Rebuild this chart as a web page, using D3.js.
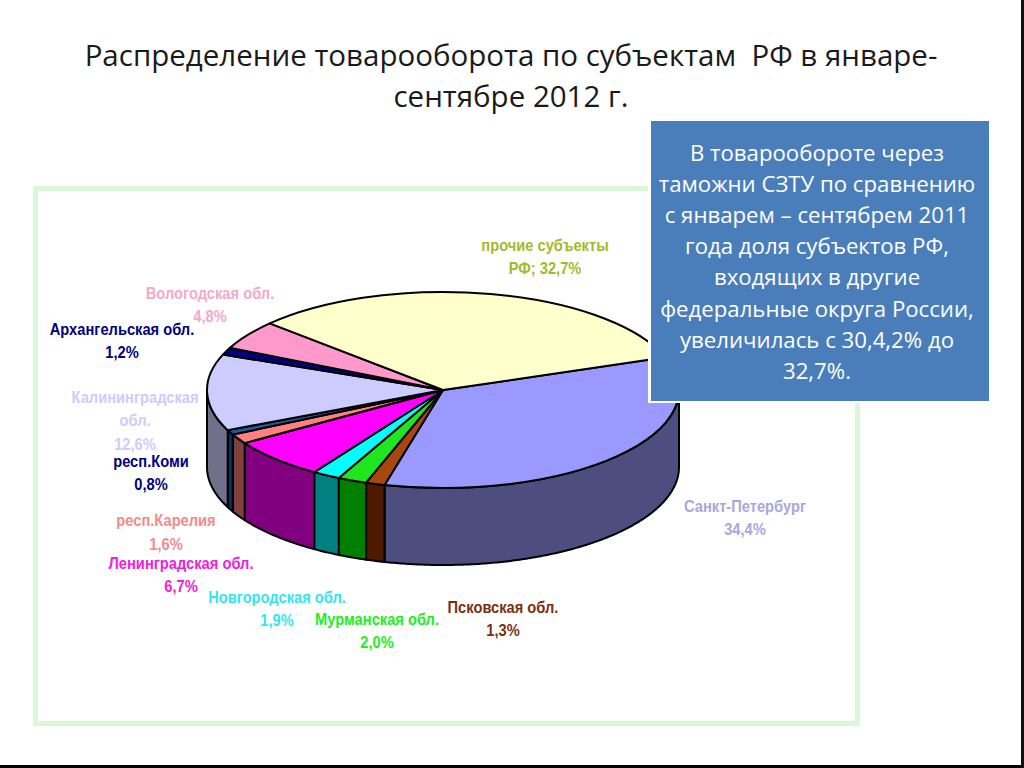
<!DOCTYPE html>
<html>
<head>
<meta charset="utf-8">
<script src="https://cdnjs.cloudflare.com/ajax/libs/d3/7.8.5/d3.min.js"></script>
<style>
html, body { margin: 0; padding: 0; background: #fff; overflow: hidden; }
</style>
</head>
<body>
<div id="d3-svg"></div>
<script>
// Values, clockwise from the right hand side of the pie
var regions = ["Санкт-Петербург", "Псковская обл.", "Мурманская обл.", "Новгородская обл.",
               "Ленинградская обл.", "респ.Карелия", "респ.Коми", "Калининградская обл.",
               "Архангельская обл.", "Вологодская обл.", "прочие субъекты РФ"];
var shares = [34.4, 1.3, 2.0, 1.9, 6.7, 1.6, 0.8, 12.6, 1.2, 4.8, 32.7];

var titleLines = ["Распределение товарооборота по субъектам  РФ в январе-", "сентябре 2012 г."];
var noteLines = ["В товарообороте через", "таможни СЗТУ по сравнению", "с январем – сентябрем 2011",
                 "года доля субъектов РФ,", "входящих в другие", "федеральные округа России,",
                 "увеличилась с 30,4,2% до", "32,7%."];

// Wedge styles, same order as above
var topColours = ["#9999ff", "#a6480f", "#1fe61f", "#00ffff", "#ff00ff", "#ff8080", "#1f5a9e", "#ccccff", "#000080", "#ff99cc", "#ffffcc"];
var sideColours = ["#4d4d80", "#4d1a00", "#008000", "#008080", "#800080", "#804040", "#003366", "#70708a", "#000040", "#804d66", "#808066"];
var labelColours = ["#a9a6e0", "#7a3010", "#22ee22", "#33e6f0", "#ee22d8", "#f58a8a", "#000080", "#ccccff", "#000080", "#f5a9c8", "#9fbb2f"];

// Label layout: how the name is broken up, centre x and the y of each line
var labelBreaks = [["Санкт-Петербург"], ["Псковская обл."], ["Мурманская обл."], ["Новгородская обл."],
                   ["Ленинградская обл."], ["респ.Карелия"], ["респ.Коми"], ["Калининградская", "обл."],
                   ["Архангельская обл."], ["Вологодская обл."], ["прочие субъекты"]];
var labelValuePrefix = ["", "", "", "", "", "", "", "", "", "", "РФ; "];
var labelX = [745, 503, 377, 277, 181, 166, 151, 135, 122, 210, 545];
var labelY = [506, 607, 619, 597, 563, 520, 461, 397, 329, 293, 245];

var WIDTH = 1024, HEIGHT = 768;
var cx = 443, cy = 390, rx = 236, ry = 98, depth = 77;
var startAngle = 70.5 * Math.PI / 180;

var svg = d3.select("#d3-svg").append("svg")
    .attr("width", WIDTH)
    .attr("height", HEIGHT)
    .style("display", "block");

// black strip along the bottom and right of the photo
svg.append("rect").attr("x", 0).attr("y", 765).attr("width", WIDTH).attr("height", 3).attr("fill", "#000");
svg.append("rect").attr("x", 1021).attr("y", 0).attr("width", 3).attr("height", HEIGHT).attr("fill", "#111");

// title
svg.selectAll("text.title").data(titleLines).enter().append("text")
    .attr("class", "title")
    .attr("x", 511)
    .attr("y", function (d, i) { return 66 + i * 41; })
    .attr("text-anchor", "middle")
    .attr("font-family", "'Open Sans', sans-serif")
    .attr("font-size", 29.5)
    .attr("fill", "#1a1a1a")
    .style("white-space", "pre")
    .text(function (d) { return d; });

// light green frame round the chart
svg.append("rect")
    .attr("x", 35.5).attr("y", 188.5)
    .attr("width", 822).attr("height", 535)
    .attr("fill", "#fff")
    .attr("stroke", "#d8f8d8")
    .attr("stroke-width", 5);

var pie = d3.pie().sort(null).startAngle(startAngle).endAngle(startAngle + 2 * Math.PI);
var slices = pie(shares);

var xScale = d3.scaleLinear().domain([-1, 1]).range([cx - rx, cx + rx]);
var yScale = d3.scaleLinear().domain([-1, 1]).range([cy - ry, cy + ry]);
var line = d3.line().x(function (d) { return d[0]; }).y(function (d) { return d[1]; });

// outer wall of a slice, only the part that faces the viewer
var wallPath = function (d) {
    var a0 = Math.max(d.startAngle, Math.PI / 2);
    var a1 = Math.min(d.endAngle, 3 * Math.PI / 2);
    if (a1 <= a0) return null;
    var angles = d3.range(a0, a1, 0.01).concat([a1]);
    var upper = angles.map(function (a) { return [xScale(Math.sin(a)), yScale(-Math.cos(a))]; });
    var lower = upper.slice().reverse().map(function (p) { return [p[0], p[1] + depth]; });
    return line(upper.concat(lower)) + "Z";
};

svg.append("g").selectAll("path").data(slices).enter().append("path")
    .attr("d", wallPath)
    .attr("fill", function (d, i) { return sideColours[i]; })
    .attr("stroke", "#000")
    .attr("stroke-width", 2)
    .attr("stroke-linejoin", "round");

// top of the pie is a normal arc squashed into an ellipse
var arc = d3.arc().innerRadius(0).outerRadius(rx);
svg.append("g")
    .attr("transform", "translate(" + cx + "," + cy + ") scale(1," + (ry / rx) + ")")
    .selectAll("path").data(slices).enter().append("path")
    .attr("d", arc)
    .attr("fill", function (d, i) { return topColours[i]; })
    .attr("stroke", "#000")
    .attr("stroke-width", 2)
    .attr("stroke-linejoin", "round")
    .attr("vector-effect", "non-scaling-stroke");

// slice labels, value goes on the last line. No narrow font here so squeeze Liberation Sans
var comma = function (v) { return d3.format(".1f")(v).replace(".", ",") + "%"; };
var labels = svg.append("g").selectAll("text").data(regions).enter().append("text")
    .attr("transform", function (d, i) { return "translate(" + labelX[i] + ",0) scale(0.89,1)"; })
    .attr("text-anchor", "middle")
    .attr("font-family", "'Liberation Sans', sans-serif")
    .attr("font-weight", "bold")
    .attr("font-size", 16.5)
    .attr("fill", function (d, i) { return labelColours[i]; });

labels.each(function (d, i) {
    var lines = labelBreaks[i].concat([labelValuePrefix[i] + comma(shares[i])]);
    d3.select(this).selectAll("tspan").data(lines).enter().append("tspan")
        .attr("x", 0)
        .attr("y", function (t, j) { return labelY[i] + 6 + j * 23.5; })
        .text(function (t) { return t; });
});

// blue note box with a white edge on the left and bottom
svg.append("rect").attr("x", 648).attr("y", 124).attr("width", 341).attr("height", 279).attr("fill", "#fff");
svg.append("rect").attr("x", 651).attr("y", 121).attr("width", 338).attr("height", 280).attr("fill", "#4a7ebb");
svg.selectAll("text.note").data(noteLines).enter().append("text")
    .attr("class", "note")
    .attr("x", 817)
    .attr("y", function (d, i) { return 161 + i * 31.1; })
    .attr("text-anchor", "middle")
    .attr("font-family", "'Open Sans', sans-serif")
    .attr("font-size", 22.2)
    .attr("fill", "#fff")
    .text(function (d) { return d; });
</script>
</body>
</html>
